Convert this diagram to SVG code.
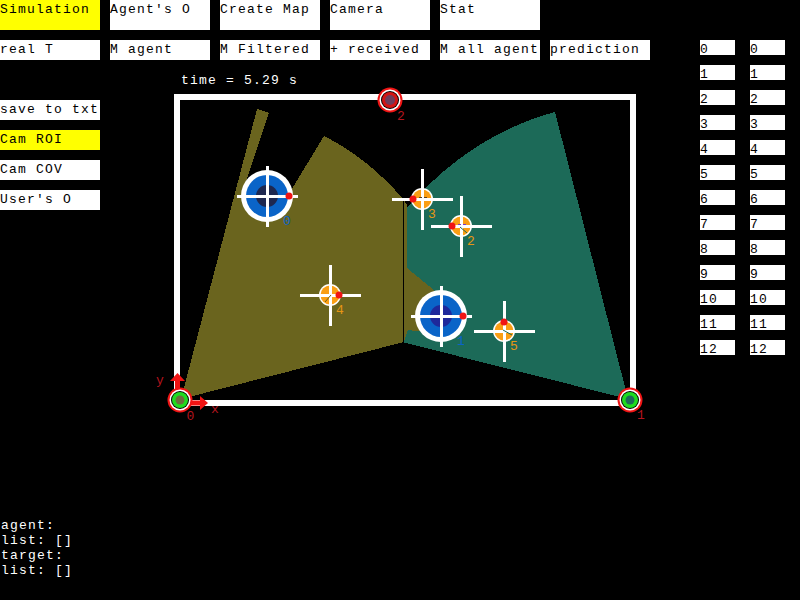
<svg xmlns="http://www.w3.org/2000/svg" width="800" height="600" viewBox="0 0 800 600">
<style>
text{font-family:"Liberation Mono","Courier New",monospace;font-size:13px;letter-spacing:1.2px;fill:#000}
.w{fill:#fff}.y{fill:#ff0}
text.lt{fill:#fff}
text.cam{fill:#b4141e}
text.a{fill:#0a64c8}
text.t{fill:#e69614}
.x{stroke:#fff;stroke-width:3;shape-rendering:crispEdges}
.dot{fill:#f01414}
.fine{fill:none;stroke-width:1}
</style>
<defs>
<g id="cross"><path class="x" d="M-30 .5H31M.5-30V31" fill="none"/></g>
<g id="agent"><circle r="26" fill="#fff"/><circle r="21" fill="#0a64c8"/></g>
<g id="target"><circle r="11" fill="#fff"/><circle r="9.500" fill="#fa9e14"/></g>
<g id="ring"><circle r="12.500" fill="#f01414"/><circle r="10.500" fill="#fff"/><circle r="9" fill="#000"/></g>
</defs>
<rect width="800" height="600" fill="#000"/>

<g id="coverage" shape-rendering="crispEdges">
<path fill="#1c6a58" d="M407 208Q470 135 555 112L628 399L402 342L406 329L407 268Z"/>
<path fill="#6a641e" d="M181 399L257 109L269 113L244 188L290 192L324 136Q368 158 404 200L407 205L407 268L440 295L425 332L408 330L404 342Z"/>
<path d="M403.500 200V342" stroke="#000" stroke-width="1" fill="none"/>
</g>

<g id="frame"><rect x="177" y="97" width="456" height="306" fill="none" stroke="#fff" stroke-width="6" shape-rendering="crispEdges"/></g>

<g id="connectors">
<path d="M177.500 390V380M190 403H201" stroke="#f01414" stroke-width="5" fill="none"/>
<path d="M177.500 373L185 381H170ZM208 403L200 396V410Z" fill="#f01414"/>
</g>

<g id="camera0"><use href="#ring" x="180" y="400"/><circle cx="180" cy="400" r="8" fill="#1edc1e"/><circle cx="180" cy="400" r="4.500" fill="#6a6e3c"/><text class="cam" x="186.500" y="420">0</text><text class="cam" x="156" y="384">y</text><text class="cam" x="211" y="413">x</text></g>
<g id="camera1"><use href="#ring" x="630" y="400"/><circle cx="630" cy="400" r="8" fill="#1edc1e"/><circle cx="630" cy="400" r="4.500" fill="#1c6a58"/><text class="cam" x="637" y="419">1</text></g>
<g id="camera2"><use href="#ring" x="390" y="100"/><circle cx="390" cy="100" r="8" fill="#d21414"/><circle cx="390" cy="100" r="5" fill="#6e3c5a"/><text class="cam" x="397" y="120">2</text></g>

<g id="agent0"><use href="#agent" x="267" y="196"/><circle cx="267" cy="196" r="11" fill="#1e2850"/><use href="#cross" x="267" y="196"/><circle cx="289" cy="196" r="3.500" class="dot"/><text class="a" x="283" y="225">0</text></g>
<g id="agent1"><use href="#agent" x="441" y="316"/><circle cx="441" cy="316" r="11" fill="#1e289b"/><use href="#cross" x="441" y="316"/><circle cx="463" cy="316" r="3.500" class="dot"/><text class="a" x="457" y="345">1</text></g>

<g id="target2"><use href="#target" x="461" y="226"/><use href="#cross" x="461" y="226"/><path class="fine" d="M458 224.500H467" stroke="#7a3cc8" stroke-dasharray="3 2"/><path class="fine" d="M460 227L467 233" stroke="#1c6a58"/><circle cx="452" cy="226" r="3.500" class="dot"/><text class="t" x="467" y="245">2</text></g>
<g id="target3"><use href="#target" x="422" y="199"/><use href="#cross" x="422" y="199"/><path class="fine" d="M419 197.500H428" stroke="#5a4020" stroke-dasharray="3 2"/><circle cx="413" cy="199" r="3.500" class="dot"/><text class="t" x="428" y="218">3</text></g>
<g id="target4"><use href="#target" x="330" y="295"/><use href="#cross" x="330" y="295"/><path class="fine" d="M325 302L331 295" stroke="#6a641e"/><circle cx="339" cy="295" r="3.500" class="dot"/><text class="t" x="336" y="314">4</text></g>
<g id="target5"><use href="#target" x="504" y="331"/><use href="#cross" x="504" y="331"/><path class="fine" d="M503 330L512 335" stroke="#1c6a58"/><circle cx="504" cy="322" r="3.500" class="dot"/><text class="t" x="510" y="350">5</text></g>

<g id="buttons">
<rect class="y" x="0" y="0" width="100" height="30"/><text x="0" y="13">Simulation</text>
<rect class="w" x="110" y="0" width="100" height="30"/><text x="110" y="13">Agent's O</text>
<rect class="w" x="220" y="0" width="100" height="30"/><text x="220" y="13">Create Map</text>
<rect class="w" x="330" y="0" width="100" height="30"/><text x="330" y="13">Camera</text>
<rect class="w" x="440" y="0" width="100" height="30"/><text x="440" y="13">Stat</text>
<rect class="w" x="0" y="40" width="100" height="20"/><text x="0" y="53">real T</text>
<rect class="w" x="110" y="40" width="100" height="20"/><text x="110" y="53">M agent</text>
<rect class="w" x="220" y="40" width="100" height="20"/><text x="220" y="53">M Filtered</text>
<rect class="w" x="330" y="40" width="100" height="20"/><text x="330" y="53">+ received</text>
<rect class="w" x="440" y="40" width="100" height="20"/><text x="440" y="53">M all agent</text>
<rect class="w" x="550" y="40" width="100" height="20"/><text x="550" y="53">prediction</text>
<rect class="w" x="0" y="100" width="100" height="20"/><text x="0" y="113">save to txt</text>
<rect class="y" x="0" y="130" width="100" height="20"/><text x="0" y="143">Cam ROI</text>
<rect class="w" x="0" y="160" width="100" height="20"/><text x="0" y="173">Cam COV</text>
<rect class="w" x="0" y="190" width="100" height="20"/><text x="0" y="203">User's O</text>
</g>

<g id="list-left">
<rect class="w" x="700" y="40" width="35" height="15"/><text x="700" y="53">0</text>
<rect class="w" x="700" y="65" width="35" height="15"/><text x="700" y="78">1</text>
<rect class="w" x="700" y="90" width="35" height="15"/><text x="700" y="103">2</text>
<rect class="w" x="700" y="115" width="35" height="15"/><text x="700" y="128">3</text>
<rect class="w" x="700" y="140" width="35" height="15"/><text x="700" y="153">4</text>
<rect class="w" x="700" y="165" width="35" height="15"/><text x="700" y="178">5</text>
<rect class="w" x="700" y="190" width="35" height="15"/><text x="700" y="203">6</text>
<rect class="w" x="700" y="215" width="35" height="15"/><text x="700" y="228">7</text>
<rect class="w" x="700" y="240" width="35" height="15"/><text x="700" y="253">8</text>
<rect class="w" x="700" y="265" width="35" height="15"/><text x="700" y="278">9</text>
<rect class="w" x="700" y="290" width="35" height="15"/><text x="700" y="303">10</text>
<rect class="w" x="700" y="315" width="35" height="15"/><text x="700" y="328">11</text>
<rect class="w" x="700" y="340" width="35" height="15"/><text x="700" y="353">12</text>
</g>
<g id="list-right">
<rect class="w" x="750" y="40" width="35" height="15"/><text x="750" y="53">0</text>
<rect class="w" x="750" y="65" width="35" height="15"/><text x="750" y="78">1</text>
<rect class="w" x="750" y="90" width="35" height="15"/><text x="750" y="103">2</text>
<rect class="w" x="750" y="115" width="35" height="15"/><text x="750" y="128">3</text>
<rect class="w" x="750" y="140" width="35" height="15"/><text x="750" y="153">4</text>
<rect class="w" x="750" y="165" width="35" height="15"/><text x="750" y="178">5</text>
<rect class="w" x="750" y="190" width="35" height="15"/><text x="750" y="203">6</text>
<rect class="w" x="750" y="215" width="35" height="15"/><text x="750" y="228">7</text>
<rect class="w" x="750" y="240" width="35" height="15"/><text x="750" y="253">8</text>
<rect class="w" x="750" y="265" width="35" height="15"/><text x="750" y="278">9</text>
<rect class="w" x="750" y="290" width="35" height="15"/><text x="750" y="303">10</text>
<rect class="w" x="750" y="315" width="35" height="15"/><text x="750" y="328">11</text>
<rect class="w" x="750" y="340" width="35" height="15"/><text x="750" y="353">12</text>
</g>

<g id="labels">
<text class="lt" x="181" y="84">time = 5.29 s</text>
<text class="lt" x="1" y="529">agent:</text>
<text class="lt" x="1" y="544">list: []</text>
<text class="lt" x="1" y="559">target:</text>
<text class="lt" x="1" y="574">list: []</text>
</g>
</svg>
